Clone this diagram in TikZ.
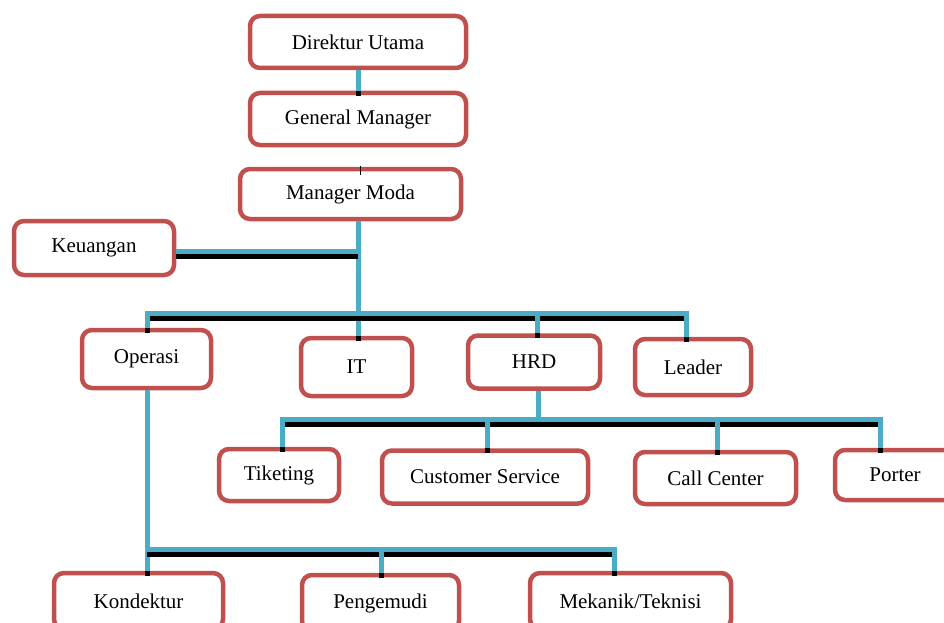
\documentclass[tikz,border=0pt]{standalone}
\usepackage{fontspec}
\setmainfont{Liberation Serif}
\definecolor{boxred}{HTML}{C0504D}
\definecolor{barblue}{HTML}{4BACC6}
\tikzset{
  unit/.style={draw=boxred, line width=4.5pt, rounded corners=10pt, fill=white,
    font=\fontsize{21}{24}\selectfont, inner sep=2pt},
  barline/.style={draw=barblue, line width=5pt},
  shadowline/.style={draw=black, line width=5pt, transform canvas={yshift=-5pt}},
}
\newcommand{\orgline}[1]{\draw[shadowline] #1; \draw[barline] #1;}

\begin{document}
\begin{tikzpicture}[x=1pt, y=-1pt]
        \useasboundingbox (0,0) rectangle (944,623);
        \fill[white] (0,0) rectangle (944,623);
        \clip (0,0) rectangle (944,623);
        \node[unit, minimum width=216pt, minimum height=52pt] (du) at (358,42) {Direktur Utama};
        \node[unit, minimum width=216pt, minimum height=52pt] (gm) at (358,119) {General Manager};
        \node[unit, minimum width=221pt, minimum height=50pt] (mm) at (350.5,194) {Manager Moda};
        \node[unit, minimum width=160pt, minimum height=54pt] (keu) at (94,248) {Keuangan};
        \node[unit, minimum width=129pt, minimum height=58pt] (op) at (146.5,359) {Operasi};
        \node[unit, minimum width=111pt, minimum height=58pt] (it) at (356.5,367) {IT};
        \node[unit, minimum width=132pt, minimum height=53pt] (hrd) at (534,362) {HRD};
        \node[unit, minimum width=116pt, minimum height=56pt] (ld) at (693,367) {Leader};
        \node[unit, minimum width=120pt, minimum height=52pt] (tik) at (279,475) {Tiketing};
        \node[unit, minimum width=206pt, minimum height=53pt] (cs) at (485,477) {Customer Service};
        \node[unit, minimum width=161pt, minimum height=52pt] (cc) at (715.5,478) {Call Center};
        \node[unit, minimum width=120pt, minimum height=50pt] (por) at (895,475) {Porter};
        \node[unit, minimum width=169pt, minimum height=56pt] (kon) at (138.5,601) {Kondektur};
        \node[unit, minimum width=157pt, minimum height=56pt] (pen) at (380.5,603) {Pengemudi};
        \node[unit, minimum width=201pt, minimum height=56pt] (mek) at (630.5,601) {Mekanik/Teknisi};
        % junctions
        \coordinate (kj) at (358,251);
        \coordinate (b1l) at (147,313);
        \coordinate (b1h) at (537,313);
        \coordinate (b1r) at (686,313);
        \coordinate (b2l) at (282,419);
        \coordinate (b2c) at (487,419);
        \coordinate (b2h) at (538,419);
        \coordinate (b2k) at (717,419);
        \coordinate (b2r) at (880,419);
        \coordinate (b3l) at (147,549);
        \coordinate (b3p) at (381,549);
        \coordinate (b3r) at (614,549);
        \coordinate (tk) at (360,166);
        % connectors
        \orgline{(du.south) -- (gm.north)}
        \draw[line width=0.6pt] (tk) -- ++(0,9);
        \orgline{(mm.south -| kj) -- (it.north -| kj)}
        \orgline{(keu.east |- kj) -- (kj)}
        \orgline{(op.north -| b1l) -- (b1l) -- (b1r) -- (ld.north -| b1r)}
        \orgline{(b1h) -- (hrd.north -| b1h)}
        \orgline{(hrd.south -| b2h) -- (b2h)}
        \orgline{(tik.north -| b2l) -- (b2l) -- (b2r) -- (por.north -| b2r)}
        \orgline{(b2c) -- (cs.north -| b2c)}
        \orgline{(b2k) -- (cc.north -| b2k)}
        \orgline{(op.south -| b3l) -- (kon.north -| b3l)}
        \orgline{(b3l) -- (b3r) -- (mek.north -| b3r)}
        \orgline{(b3p) -- (pen.north -| b3p)}
    \end{tikzpicture}
\end{document}
